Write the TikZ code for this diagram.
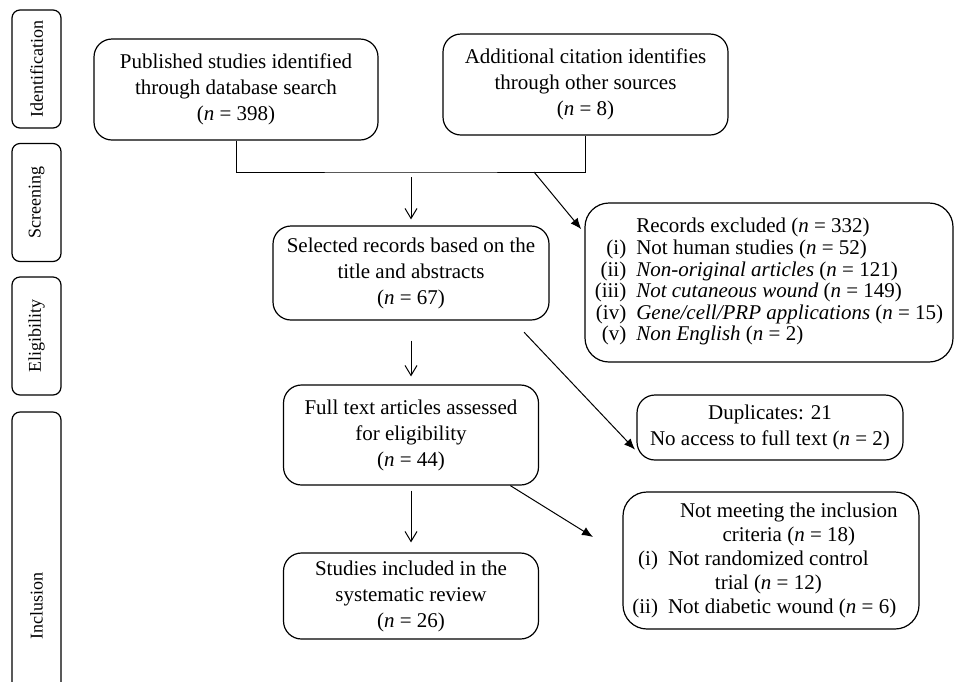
\documentclass[tikz,border=0pt]{standalone}
\usepackage{fontspec}
\setmainfont{Liberation Serif}
\usetikzlibrary{positioning, arrows.meta}

\newcommand{\nval}[1]{(\textit{n} = #1)}

\begin{document}
\begin{tikzpicture}[x=0.5pt, y=-0.5pt, node distance=81pt, on grid,
                    font=\fontsize{10.5}{13}\selectfont]
                \tikzset{
                    box/.style={draw, line width=0.6pt, rounded corners=9pt, align=center, inner sep=2pt},
                    stage/.style={draw, line width=0.6pt, rounded corners=4pt, rotate=90,
                                  minimum width=59pt, minimum height=24.5pt,
                                  font=\fontsize{9}{11}\selectfont},
                    flow/.style={-{Straight Barb[length=5pt, width=6pt]}, line width=0.5pt},
                    drop/.style={-{Latex[length=5.5pt, width=4.5pt]}, line width=0.5pt}
                }
                \useasboundingbox (0,0) rectangle (956,681);
                \clip (0,0) rectangle (956,681);

                \node[stage] (ident) at (36.5,69) {Identification};
                \node[stage] (screen) at (36.5,202.5) {Screening};
                \node[stage] (elig) at (36.5,336) {Eligibility};
                \node[stage, minimum width=194pt] (incl) at (36.5,606) {Inclusion};

                \node[box, minimum width=142pt, minimum height=50.5pt] (pub) at (236,89.5)
                    {Published studies identified\\through database search\\\nval{398}};
                \node[box, minimum width=142.5pt, minimum height=50.5pt] (add) at (585.5,84.5)
                    {Additional citation identifies\\through other sources\\\nval{8}};

                \node[box, minimum width=138pt, minimum height=47pt] (sel) at (411,273)
                    {Selected records based on the\\title and abstracts\\\nval{67}};
                \node[box, minimum width=127.5pt, minimum height=50pt] (full) [below=of sel]
                    {Full text articles assessed\\for eligibility\\\nval{44}};
                \node[box, minimum width=127.5pt, minimum height=43pt] (incstud) [below=80.5pt of full]
                    {Studies included in the\\systematic review\\\nval{26}};

                \node[box, rounded corners=12pt, minimum width=184pt, minimum height=79.5pt] (excl) at (769,282.5)
                    {\renewcommand{\arraystretch}{0.83}%
                     \begin{tabular}{@{}r@{\hspace{5pt}}l@{}}
                      & Records excluded \nval{332}\\
                     (i) & Not human studies \nval{52}\\
                     (ii) & \textit{Non-original articles} \nval{121}\\
                     (iii) & \textit{Not cutaneous wound} \nval{149}\\
                     (iv) & \textit{Gene/cell/PRP applications} \nval{15}\\
                     (v) & \textit{Non English} \nval{2}
                     \end{tabular}};
                \node[box, minimum width=133pt, minimum height=32.5pt] (dup) at (770,427.5)
                    {Duplicates: 21\\No access to full text \nval{2}};
                \node[box, rounded corners=12pt, minimum width=148pt, minimum height=68.5pt] (notmeet) at (771,560.5)
                    {\renewcommand{\arraystretch}{0.92}%
                     \begin{tabular}{@{}r@{\hspace{5pt}}l@{}}
                      & \multicolumn{1}{c}{Not meeting the inclusion}\\
                      & \multicolumn{1}{c}{criteria \nval{18}}\\
                     (i) & \begin{tabular}[t]{@{}c@{}}Not randomized control\\trial \nval{12}\end{tabular}\\
                     (ii) & Not diabetic wound \nval{6}
                     \end{tabular}};

                \coordinate (join) at (411,172);
                \coordinate (split) at (534,172);
                \coordinate (toend) at (593,537);

                \draw[line width=0.5pt] (pub.south) |- (join) -| (add.south);

                \path[flow]
                    (join) edge[shorten <=2.5pt, shorten >=3pt] (sel)
                    (sel) edge[shorten <=10pt, shorten >=4pt] (full)
                    (full) edge[shorten <=2.5pt, shorten >=5pt] (incstud);

                \path[drop]
                    (split) edge[shorten >=2.5pt] (excl.165)
                    (sel.335) edge[shorten <=8pt, shorten >=1pt] (dup.190)
                    (full.333) edge (toend);

            \end{tikzpicture}
\end{document}
